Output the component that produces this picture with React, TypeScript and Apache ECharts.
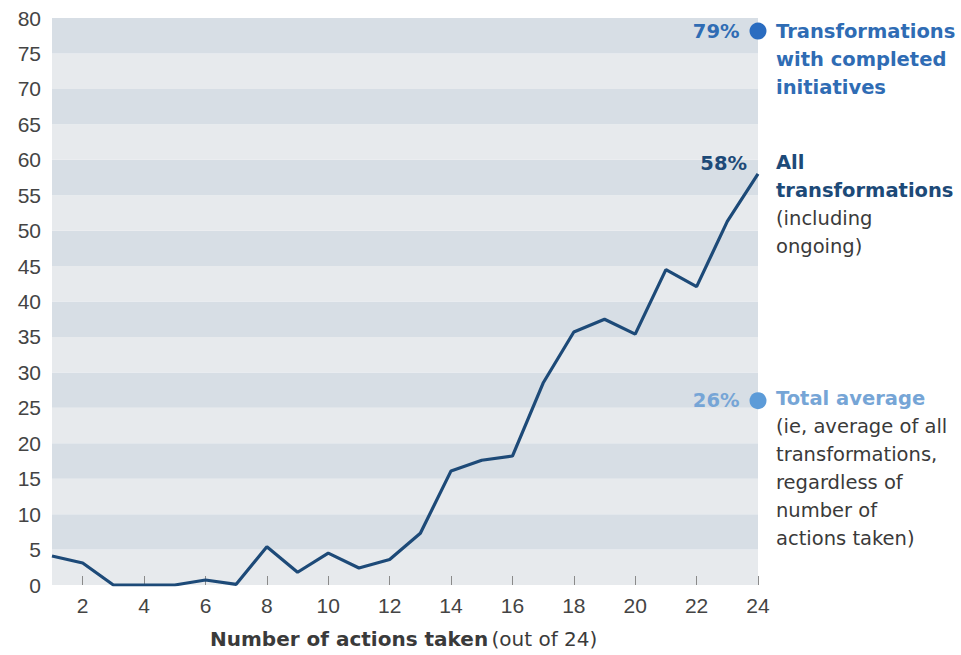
import React, { useEffect, useRef } from "react";
import * as echarts from "echarts";

const actions: string[] = ["1","2","3","4","5","6","7","8","9","10","11","12","13","14","15","16","17","18","19","20","21","22","23","24"];
const allTransformations: number[] = [4.1, 3.1, 0, 0, 0, 0.7, 0.1, 5.4, 1.8, 4.5, 2.4, 3.6, 7.3, 16.1, 17.6, 18.2, 28.5, 35.7, 37.5, 35.4, 44.5, 42.1, 51.3, 58];
const completedValue = 79;
const averageValue = 26;
const yTicks = { min: 0, max: 80, interval: 5 };

const NAVY = "#1d4a78";
const MID = "#2f6cb4";
const MID_DOT = "#2a6cc0";
const LIGHT = "#76a5d6";
const LIGHT_DOT = "#5c9bd8";
const GRAY = "#3a3a3a";
const FONT = "DejaVu Sans, Verdana, sans-serif";
const TICK_FONT = "Liberation Sans, Arial, sans-serif";
const FS = 19.5;

export default function App() {
  const ref = useRef<HTMLDivElement>(null);
  useEffect(() => {
    if (!ref.current) return;
    const chart = echarts.init(ref.current, null, { renderer: "svg" });
    const even = (i: number) => i % 2 === 1;
    chart.setOption({
      animation: false,
      textStyle: { fontFamily: FONT },
      grid: { left: 52, right: 203, top: 18, bottom: 70 },
      xAxis: {
        type: "category",
        data: actions,
        boundaryGap: false,
        axisLine: { show: false },
        axisTick: { show: true, inside: true, length: 9, interval: even, lineStyle: { color: "#8a8a8a" } },
        axisLabel: { interval: even, color: "#444", fontSize: 21, margin: 10, fontFamily: TICK_FONT },
        splitLine: { show: false },
      },
      yAxis: {
        type: "value",
        min: yTicks.min,
        max: yTicks.max,
        interval: yTicks.interval,
        axisLine: { show: false },
        axisTick: { show: false },
        splitLine: { show: false },
        splitArea: { show: true, areaStyle: { color: ["#e7eaed", "#d7dee5"] } },
        axisLabel: { color: "#444", fontSize: 21, margin: 11, fontFamily: TICK_FONT },
      },
      series: [
        {
          type: "line",
          data: allTransformations,
          symbol: "none",
          lineStyle: { color: NAVY, width: 3.2 },
          z: 3,
        },
        {
          type: "scatter",
          data: [["24", completedValue]],
          symbolSize: 17,
          symbolOffset: [0, 6],
          itemStyle: { color: MID_DOT, opacity: 1 },
          label: { show: true, position: "left", distance: 10, formatter: completedValue + "%", color: MID, fontWeight: "bold", fontSize: FS, fontFamily: FONT },
          z: 4,
        },
        {
          type: "scatter",
          data: [["24", averageValue]],
          symbolSize: 17,
          itemStyle: { color: LIGHT_DOT, opacity: 1 },
          label: { show: true, position: "left", distance: 10, formatter: averageValue + "%", color: LIGHT, fontWeight: "bold", fontSize: FS, fontFamily: FONT },
          z: 4,
        },
      ],
      graphic: [
        {
          type: "text",
          left: 776,
          top: 17,
          z: 100,
          style: {
            text: "Transformations\nwith completed\ninitiatives",
            fill: MID,
            font: `bold ${FS}px ${FONT}`,
            lineHeight: 28,
          },
        },
        {
          type: "text",
          right: 214,
          top: 153,
          z: 100,
          style: { text: "58%", fill: NAVY, font: `bold ${FS}px ${FONT}` },
        },
        {
          type: "text",
          left: 776,
          top: 152,
          z: 100,
          style: {
            text: "{b|All}\n{b|transformations}\n{r|(including}\n{r|ongoing)}",
            rich: {
              b: { fill: NAVY, fontWeight: "bold", fontSize: FS, fontFamily: FONT, lineHeight: 28 },
              r: { fill: GRAY, fontSize: FS, fontFamily: FONT, lineHeight: 28 },
            },
          },
        },
        {
          type: "text",
          left: 776,
          top: 388,
          z: 100,
          style: {
            text: "{b|Total average}\n{r|(ie, average of all}\n{r|transformations,}\n{r|regardless of}\n{r|number of}\n{r|actions taken)}",
            rich: {
              b: { fill: LIGHT, fontWeight: "bold", fontSize: FS, fontFamily: FONT, lineHeight: 28 },
              r: { fill: GRAY, fontSize: FS, fontFamily: FONT, lineHeight: 28 },
            },
          },
        },
        {
          type: "text",
          left: 210,
          top: 629,
          z: 100,
          style: {
            text: "{b|Number of actions taken} {r|(out of 24)}",
            rich: {
              b: { fill: GRAY, fontWeight: "bold", fontSize: 20, fontFamily: FONT },
              r: { fill: GRAY, fontSize: 20, fontFamily: FONT },
            },
          },
        },
      ],
    });
    return () => chart.dispose();
  }, []);
  return (
    <div
      ref={ref}
      style={{ position: "fixed", left: 0, top: 0, width: 961, height: 655, background: "#ffffff" }}
    />
  );
}
